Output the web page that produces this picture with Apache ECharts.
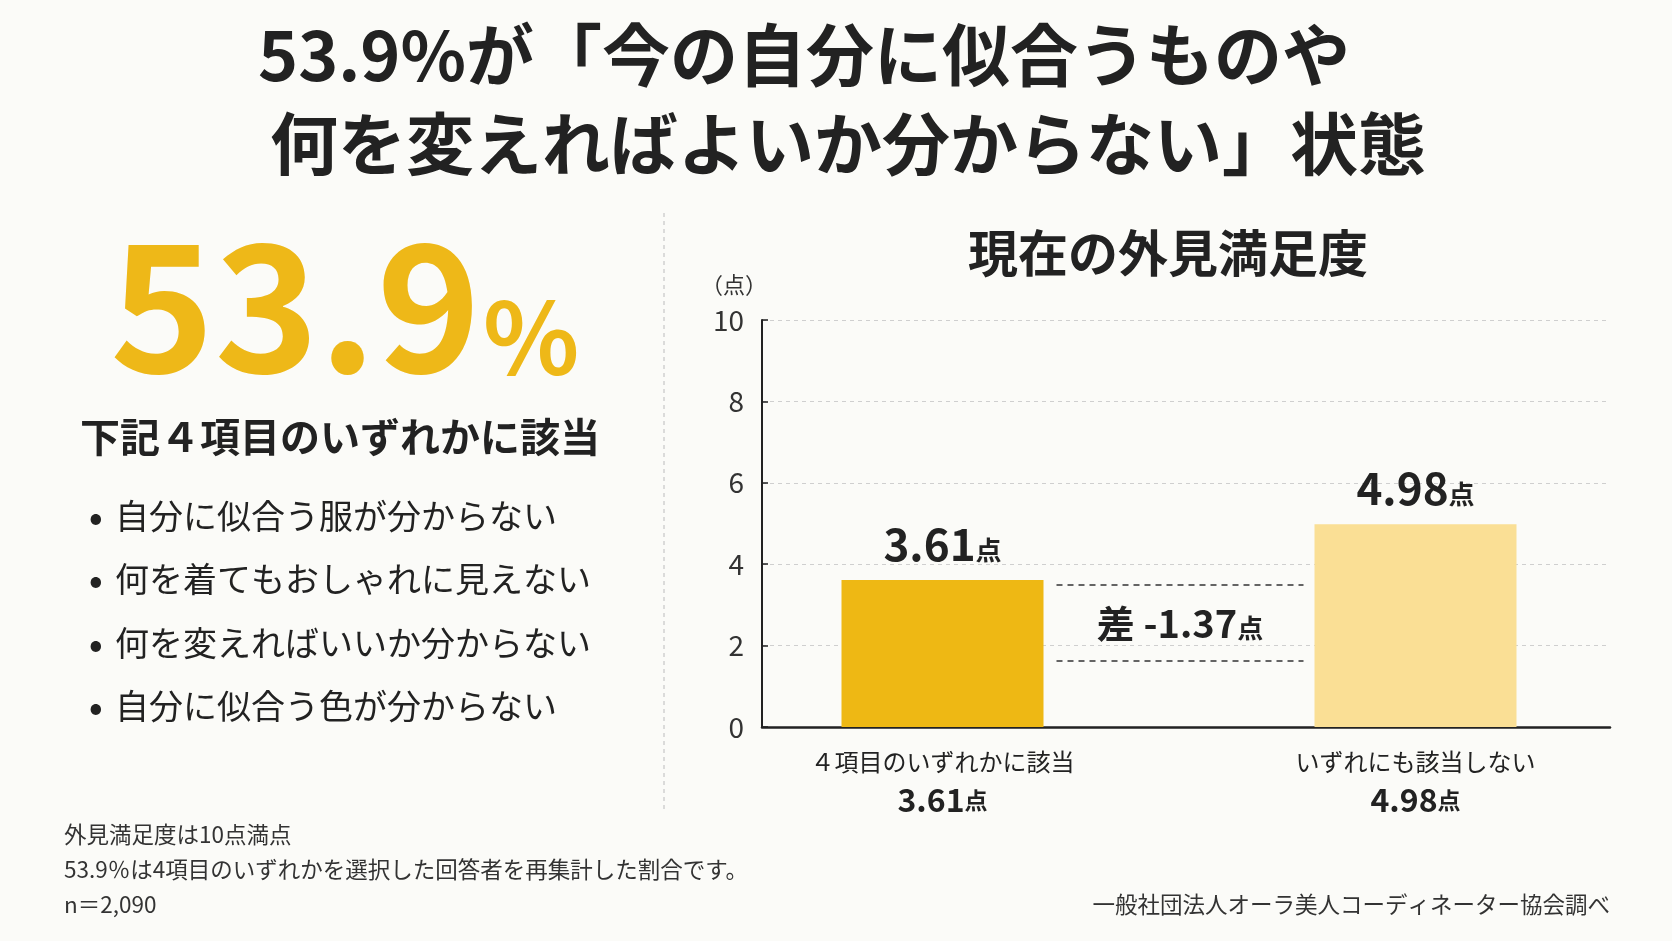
<!DOCTYPE html>
<html>
<head>
<meta charset="utf-8">
<script src="https://cdn.jsdelivr.net/npm/echarts@6/dist/echarts.min.js"></script>
<style>
html, body { margin: 0; padding: 0; background: #fbfbf8; }
#main { width: 1672px; height: 941px; }
</style>
</head>
<body>
<div id="main"></div>
<script>
// データ
var categories = ['４項目のいずれかに該当', 'いずれにも該当しない'];
var scores = [3.61, 4.98];
var barColors = ['#eeb814', '#fadf95'];
var yMin = 0, yMax = 10, yStep = 2;
var bullets = ['自分に似合う服が分からない', '何を着てもおしゃれに見えない', '何を変えればいいか分からない', '自分に似合う色が分からない'];
var notes = ['外見満足度は10点満点', '53.9％は4項目のいずれかを選択した回答者を再集計した割合です。', 'n＝2,090'];
var source = '一般社団法人オーラ美人コーディネーター協会調べ';
var headline = ['53.9%が「今の自分に似合うものや', '何を変えればよいか分からない」状態'];
var bigNum = '53.9';

var FONT = '"Noto Sans CJK JP", "Noto Sans", sans-serif';
var DARK = '#222';

var myChart = echarts.init(document.getElementById('main'));

function txt(x, y, text, size, opt) {
    opt = opt || {};
    return {
        type: 'text', x: x, y: y, z: 10,
        style: {
            text: text, fontSize: size, fontFamily: FONT,
            fontWeight: opt.bold ? 'bold' : 'normal',
            fill: opt.color || DARK,
            align: opt.align || 'left', verticalAlign: 'middle'
        }
    };
}

var graphics = [];
// 見出し
graphics.push(txt(804, 55, headline[0], 68, { bold: true, align: 'center' }));
graphics.push(txt(848, 144, headline[1], 68, { bold: true, align: 'center' }));
// 左側
graphics.push(txt(110, 306, bigNum, 177, { bold: true, color: '#eeb818' }));
graphics.push(txt(483, 337, '%', 100, { bold: true, color: '#eeb818' }));
graphics.push(txt(340, 437, '下記４項目のいずれかに該当', 40, { bold: true, align: 'center' }));
for (var i = 0; i < bullets.length; i++) {
    graphics.push(txt(89, 516 + i * 63.5, '•', 36, { bold: true }));
    graphics.push(txt(115, 516 + i * 63.5, bullets[i], 34, {}));
}
// 区切り線
graphics.push({
    type: 'line', shape: { x1: 664, y1: 213, x2: 664, y2: 810 },
    style: { stroke: '#bbb', lineWidth: 1, lineDash: [4, 4] }
});
// 注記
for (var j = 0; j < notes.length; j++) {
    graphics.push(txt(64, 834 + j * 35, notes[j], 22.5, { color: '#333' }));
}
graphics.push(txt(1610, 904, source, 22.5, { color: '#333', align: 'right' }));
// グラフタイトル
graphics.push(txt(1168, 253, '現在の外見満足度', 50, { bold: true, align: 'center' }));
graphics.push(txt(734, 285, '（点）', 22, { align: 'center', color: '#333' }));

var option = {
    backgroundColor: '#fbfbf8',
    animation: false,
    grid: [
        { left: 762, top: 320, width: 848, height: 407 },
        { left: 706, top: 320, width: 946, height: 407 }
    ],
    xAxis: [
        {
            type: 'category', gridIndex: 0, data: categories,
            axisLine: { lineStyle: { color: DARK, width: 2.5 } },
            axisTick: { show: false }, axisLabel: { show: false }
        },
        {
            type: 'category', gridIndex: 1, data: categories,
            axisLine: { show: false }, axisTick: { show: false },
            axisLabel: {
                margin: 16,
                formatter: function (v, idx) {
                    return '{c|' + v + '}\n{s|' + scores[idx].toFixed(2) + '}{u|点}';
                },
                rich: {
                    c: { fontSize: 24, fontFamily: FONT, color: DARK, lineHeight: 38 },
                    s: { fontSize: 32, fontFamily: FONT, fontWeight: 'bold', color: DARK, lineHeight: 38 },
                    u: { fontSize: 23, fontFamily: FONT, fontWeight: 'bold', color: DARK, lineHeight: 38 }
                }
            }
        }
    ],
    yAxis: [
        {
            type: 'value', gridIndex: 0, min: yMin, max: yMax, interval: yStep,
            axisLine: { show: true, lineStyle: { color: DARK, width: 2 } },
            axisTick: { show: true, inside: true, length: 6, lineStyle: { color: DARK, width: 1.5 } },
            axisLabel: { fontSize: 28, fontFamily: FONT, color: '#333', margin: 18 },
            splitLine: { show: true, lineStyle: { color: '#cfcfcf', width: 1, type: [4, 4] } }
        },
        {
            type: 'value', gridIndex: 1, min: yMin, max: yMax, interval: yStep,
            show: false, splitLine: { show: false }
        }
    ],
    series: [
        {
            type: 'bar', xAxisIndex: 1, yAxisIndex: 1,
            barWidth: 202,
            data: scores.map(function (v, k) {
                return { value: v, itemStyle: { color: barColors[k] } };
            }),
            label: {
                show: true, position: 'top', distance: 14,
                formatter: function (p) { return '{v|' + p.value.toFixed(2) + '}{u|点}'; },
                rich: {
                    v: { fontSize: 44, fontFamily: FONT, fontWeight: 'bold', color: DARK },
                    u: { fontSize: 26, fontFamily: FONT, fontWeight: 'bold', color: DARK, padding: [12, 0, 0, 0] }
                }
            }
        }
    ],
    graphic: graphics
};
myChart.setOption(option);

// 差の注記（棒の位置から計算）
var p1 = myChart.convertToPixel({ xAxisIndex: 1, yAxisIndex: 1 }, [0, scores[0]]);
var p2 = myChart.convertToPixel({ xAxisIndex: 1, yAxisIndex: 1 }, [1, scores[0]]);
var xs = p1[0] + 101 + 13, xe = p2[0] - 101 - 11;
var yTop = p1[1] + 5, yBot = yTop + 76;
var diff = (scores[0] - scores[1]).toFixed(2);
graphics.push({
    type: 'line', shape: { x1: xs, y1: yTop, x2: xe, y2: yTop },
    style: { stroke: '#333', lineWidth: 1.5, lineDash: [6, 5] }
});
graphics.push({
    type: 'line', shape: { x1: xs, y1: yBot, x2: xe, y2: yBot },
    style: { stroke: '#333', lineWidth: 1.5, lineDash: [6, 5] }
});
graphics.push({
    type: 'text', x: (xs + xe) / 2, y: (yTop + yBot) / 2, z: 10,
    style: {
        text: '{a|差 ' + diff + '}{u|点}',
        rich: {
            a: { fontSize: 38, fontFamily: FONT, fontWeight: 'bold', fill: DARK },
            u: { fontSize: 26, fontFamily: FONT, fontWeight: 'bold', fill: DARK, padding: [10, 0, 0, 0] }
        },
        align: 'center', verticalAlign: 'middle'
    }
});
myChart.setOption({ graphic: graphics });
</script>
</body>
</html>
